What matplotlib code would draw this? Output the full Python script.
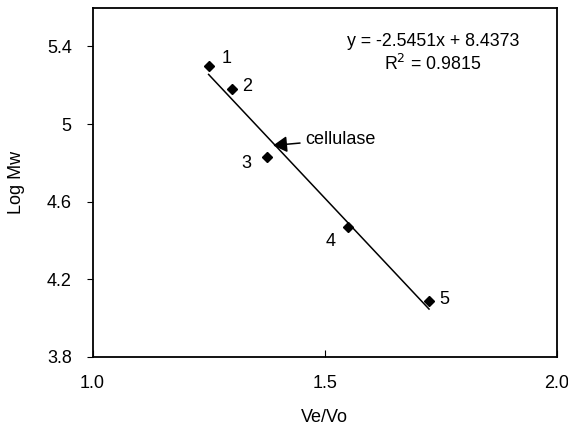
import matplotlib
matplotlib.use('Agg')
import matplotlib.pyplot as plt
import numpy as np

plt.rcParams['font.family'] = ['Liberation Sans', 'DejaVu Sans']

# standards: Ve/Vo vs log Mw
ve_vo = [1.25, 1.30, 1.375, 1.55, 1.725]
log_mw = [5.30, 5.18, 4.83, 4.47, 4.09]
labels = ['1', '2', '3', '4', '5']
label_pos = [(1.289, 5.338), (1.332, 5.194), (1.332, 4.798), (1.513, 4.394), (1.759, 4.094)]

# linear fit shown on chart
slope = -2.5451
intercept = 8.4373
r2 = 0.9815

# cellulase position on the line
cellulase = (1.389, 4.89)

fig = plt.figure(figsize=(5.68, 4.26), dpi=100)
ax = fig.add_axes([0.163, 0.162, 0.817, 0.820])

ax.plot(ve_vo, log_mw, 'D', color='black', markersize=5.5)

xs = np.array([min(ve_vo), max(ve_vo)])
ax.plot(xs, slope * xs + intercept, color='black', linewidth=1.1)

for lab, (lx, ly) in zip(labels, label_pos):
    ax.text(lx, ly, lab, fontsize=13, ha='center', va='center')

ax.text(1.733, 5.425, f'y = {slope}x + {intercept}', fontsize=12.8, ha='center', va='center')
ax.text(1.733, 5.31, f'R$^2$ = {r2}', fontsize=12.8, ha='center', va='center')

ax.annotate('cellulase', xy=cellulase, xytext=(1.459, 4.921), fontsize=13,
            ha='left', va='center',
            arrowprops=dict(arrowstyle='-|>,head_length=0.6,head_width=0.35', color='black',
                            lw=1.1, mutation_scale=14, shrinkA=2, shrinkB=0))

ax.set_xlim(1.0, 2.0)
ax.set_ylim(3.8, 5.6)
ax.set_xticks([1.0, 1.5, 2.0])
ax.set_xticklabels(['1.0', '1.5', '2.0'])
ax.set_yticks([3.8, 4.2, 4.6, 5.0, 5.4])
ax.set_yticklabels(['3.8', '4.2', '4.6', '5', '5.4'])
ax.tick_params(axis='x', direction='in', length=5, labelsize=13, pad=13)
ax.tick_params(axis='y', direction='out', length=4, labelsize=13, pad=11)
for s in ax.spines.values():
    s.set_linewidth(1.3)

ax.set_xlabel('Ve/Vo', fontsize=13, labelpad=12)
ax.set_ylabel('Log Mw', fontsize=13, va='center')
ax.yaxis.set_label_coords(-0.165, 0.5)

fig.savefig('out.png', dpi=100)
